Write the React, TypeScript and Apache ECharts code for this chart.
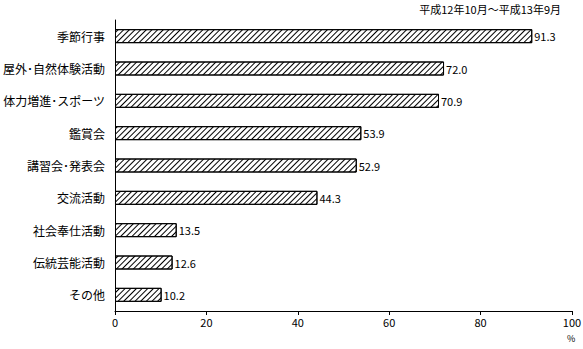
import React, { useEffect, useRef } from "react";
import * as echarts from "echarts";

const categories = ["季節行事", "屋外･自然体験活動", "体力増進･スポーツ", "鑑賞会", "講習会･発表会", "交流活動", "社会奉仕活動", "伝統芸能活動", "その他"];
const values = [91.3, 72.0, 70.9, 53.9, 52.9, 44.3, 13.5, 12.6, 10.2];
const periodLabel = "平成12年10月～平成13年9月";
const unitLabel = "%";

const FONT = "'Noto Sans CJK JP', sans-serif";

export default function App() {
  const ref = useRef<HTMLDivElement>(null);
  useEffect(() => {
    const chart = echarts.init(ref.current!, null, { renderer: "svg" });
    chart.setOption({
      animation: false,
      backgroundColor: "#fff",
      textStyle: { fontFamily: FONT },
      grid: { left: 115, right: 11, top: 20, bottom: 38, containLabel: false, outerBoundsMode: "none" },
      xAxis: {
        type: "value",
        min: 0,
        max: 100,
        interval: 20,
        axisLine: { show: true, lineStyle: { color: "#000", width: 1 } },
        axisTick: { show: true, length: 4, lineStyle: { color: "#000" } },
        axisLabel: { color: "#000", fontSize: 11, fontFamily: FONT, margin: 5 },
        splitLine: { show: false },
      },
      yAxis: {
        type: "category",
        inverse: true,
        data: categories,
        axisLine: { show: true, lineStyle: { color: "#000", width: 1 } },
        axisTick: { show: false },
        axisLabel: { color: "#000", fontSize: 12, fontFamily: FONT, margin: 10 },
      },
      series: [
        {
          type: "bar",
          data: values,
          barWidth: 14,
          itemStyle: {
            color: "#fff",
            borderColor: "#000",
            borderWidth: 1,
            decal: {
              symbol: "rect",
              color: "#000",
              backgroundColor: "#fff",
              dashArrayX: [1, 0],
              dashArrayY: [1, 3],
              rotation: -Math.PI / 4,
            },
          },
          label: {
            show: true,
            position: "right",
            distance: 2,
            color: "#000",
            fontSize: 11,
            fontFamily: FONT,
            formatter: (p: any) => Number(p.value).toFixed(1),
          },
        },
      ],
      graphic: [
        {
          type: "text",
          right: 22,
          top: 3,
          style: { text: periodLabel, fill: "#000", font: `11px ${FONT}` },
        },
        {
          type: "text",
          left: 567,
          top: 334,
          style: { text: unitLabel, fill: "#000", font: `9px ${FONT}` },
        },
      ],
    });
    return () => chart.dispose();
  }, []);
  return <div ref={ref} style={{ width: 583, height: 349, position: "absolute", left: 0, top: 0 }} />;
}
